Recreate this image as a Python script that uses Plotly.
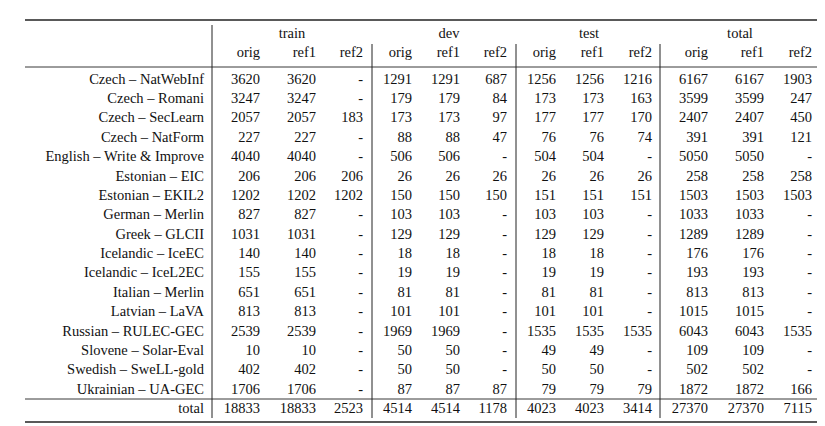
import plotly.graph_objects as go

corpora = ["Czech – NatWebInf", "Czech – Romani", "Czech – SecLearn", "Czech – NatForm",
           "English – Write & Improve", "Estonian – EIC", "Estonian – EKIL2", "German – Merlin",
           "Greek – GLCII", "Icelandic – IceEC", "Icelandic – IceL2EC", "Italian – Merlin",
           "Latvian – LaVA", "Russian – RULEC-GEC", "Slovene – Solar-Eval", "Swedish – SweLL-gold",
           "Ukrainian – UA-GEC", "total"]
splits = ["train", "dev", "test", "total"]
subcols = ["orig", "ref1", "ref2"]
N = None
train_orig = [3620, 3247, 2057, 227, 4040, 206, 1202, 827, 1031, 140, 155, 651, 813, 2539, 10, 402, 1706, 18833]
train_ref1 = [3620, 3247, 2057, 227, 4040, 206, 1202, 827, 1031, 140, 155, 651, 813, 2539, 10, 402, 1706, 18833]
train_ref2 = [N, N, 183, N, N, 206, 1202, N, N, N, N, N, N, N, N, N, N, 2523]
dev_orig = [1291, 179, 173, 88, 506, 26, 150, 103, 129, 18, 19, 81, 101, 1969, 50, 50, 87, 4514]
dev_ref1 = [1291, 179, 173, 88, 506, 26, 150, 103, 129, 18, 19, 81, 101, 1969, 50, 50, 87, 4514]
dev_ref2 = [687, 84, 97, 47, N, 26, 150, N, N, N, N, N, N, N, N, N, 87, 1178]
test_orig = [1256, 173, 177, 76, 504, 26, 151, 103, 129, 18, 19, 81, 101, 1535, 49, 50, 79, 4023]
test_ref1 = [1256, 173, 177, 76, 504, 26, 151, 103, 129, 18, 19, 81, 101, 1535, 49, 50, 79, 4023]
test_ref2 = [1216, 163, 170, 74, N, 26, 151, N, N, N, N, N, N, 1535, N, N, 79, 3414]
total_orig = [6167, 3599, 2407, 391, 5050, 258, 1503, 1033, 1289, 176, 193, 813, 1015, 6043, 109, 502, 1872, 27370]
total_ref1 = [6167, 3599, 2407, 391, 5050, 258, 1503, 1033, 1289, 176, 193, 813, 1015, 6043, 109, 502, 1872, 27370]
total_ref2 = [1903, 247, 450, 121, N, 258, 1503, N, N, N, N, N, N, 1535, N, N, 166, 7115]

columns = [train_orig, train_ref1, train_ref2, dev_orig, dev_ref1, dev_ref2,
           test_orig, test_ref1, test_ref2, total_orig, total_ref1, total_ref2]

# layout (pixel space)
col_right = [252, 308, 355, 404, 452, 499, 548, 596, 644, 700, 756, 804]
label_right = 196
row_y = [72 + i * 19.38 for i in range(17)] + [401]
split_x = [284, 441, 581, 732]
FONT = dict(family="'Liberation Serif', 'DejaVu Serif', serif", size=14.5, color="#111")

fig = go.Figure()
fig.add_trace(go.Scatter(x=[label_right] * len(corpora), y=row_y, text=corpora, mode="text",
                         textposition="middle left", textfont=FONT, hoverinfo="skip"))
for j, col in enumerate(columns):
    fig.add_trace(go.Scatter(x=[col_right[j]] * len(col), y=row_y,
                             text=["-" if v is None else str(v) for v in col], mode="text",
                             textposition="middle left", textfont=FONT, hoverinfo="skip"))
fig.add_trace(go.Scatter(x=col_right, y=[45] * 12, text=subcols * 4, mode="text",
                         textposition="middle left", textfont=FONT, hoverinfo="skip"))
fig.add_trace(go.Scatter(x=split_x, y=[26] * 4, text=splits, mode="text",
                         textposition="middle center", textfont=FONT, hoverinfo="skip"))

L = dict(color="#222")
for y, w in [(12, 1.4), (59, 0.9), (391, 0.9), (414, 1.4)]:
    fig.add_shape(type="line", x0=17, x1=812, y0=y, y1=y, line=dict(L, width=w))
fig.add_shape(type="line", x0=204, x1=204, y0=17, y1=410, line=dict(L, width=1))
for x in [364, 508, 652]:
    fig.add_shape(type="line", x0=x, x1=x, y0=36, y1=410, line=dict(L, width=1))

fig.update_layout(width=825, height=426, margin=dict(l=0, r=0, t=0, b=0),
                  plot_bgcolor="white", paper_bgcolor="white", showlegend=False,
                  xaxis=dict(range=[0, 825], visible=False, fixedrange=True),
                  yaxis=dict(range=[426, 0], visible=False, fixedrange=True))
fig.write_html("out.html")
